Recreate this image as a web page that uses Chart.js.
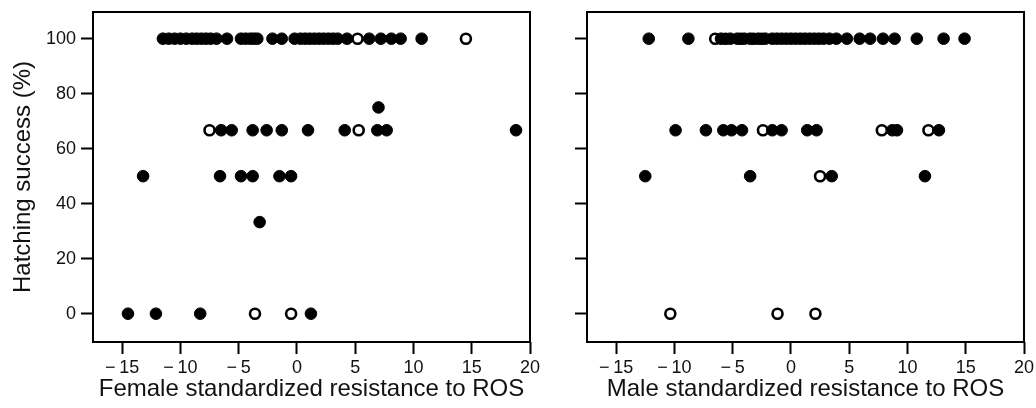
<!DOCTYPE html>
<html>
<head>
<meta charset="utf-8">
<script src="https://cdn.jsdelivr.net/npm/chart.js@4.4.1/dist/chart.umd.min.js"></script>
<style>
  html, body { margin: 0; padding: 0; background: #fff; }
  #wrap { position: relative; width: 1036px; height: 408px; }
  .panel { position: absolute; top: 0; height: 408px; }
  #left-panel { left: 0; width: 545px; }
  #right-panel { left: 545px; width: 491px; }
</style>
</head>
<body>
<div id="wrap">
  <div class="panel" id="left-panel"><canvas id="female-chart"></canvas></div>
  <div class="panel" id="right-panel"><canvas id="male-chart"></canvas></div>
</div>
<script>
/* values */
let xTicks = [-15, -10, -5, 0, 5, 10, 15, 20];
let yTicks = [0, 20, 40, 60, 80, 100];

// female panel, filled circles
let femaleFilledX = [
	-11.5, -11.0, -10.5, -10.0, -9.5, -9.0, -8.6, -8.2, -7.8, -7.4, -6.9, -6.0,
	-4.8, -4.4, -4.0, -3.7, -3.4, -2.1, -1.3, -0.2, 0.3, 0.7, 1.1, 1.5, 1.9, 2.3,
	2.7, 3.1, 3.5, 4.3, 6.2, 7.2, 8.1, 8.9, 10.7,
	7.0,
	-6.5, -5.6, -3.8, -2.6, -1.3, 0.95, 4.1, 6.9, 7.7, 18.8,
	-13.2, -6.6, -4.8, -3.8, -1.5, -0.5,
	-3.2,
	-14.5, -12.1, -8.3, 1.2
];
let femaleFilledY = [
	100, 100, 100, 100, 100, 100, 100, 100, 100, 100, 100, 100,
	100, 100, 100, 100, 100, 100, 100, 100, 100, 100, 100, 100, 100, 100,
	100, 100, 100, 100, 100, 100, 100, 100, 100,
	75,
	66.7, 66.7, 66.7, 66.7, 66.7, 66.7, 66.7, 66.7, 66.7, 66.7,
	50, 50, 50, 50, 50, 50,
	33.3,
	0, 0, 0, 0
];
// female panel, open circles
let femaleOpenX = [5.2, 14.5, -7.5, 5.3, -3.6, -0.5];
let femaleOpenY = [100, 100, 66.7, 66.7, 0, 0];

// male panel, filled circles
let maleFilledX = [
	-12.2, -8.8, -6.0, -5.2, -4.6, -4.0, -3.5, -2.8, -2.2, -1.6, -1.2, -0.8, -0.4,
	0, 0.4, 0.8, 1.2, 1.6, 2.0, 2.4, 2.8, 3.3, 3.9, 4.8, 5.9, 6.8, 7.9, 8.9,
	10.8, 13.1, 14.9,
	-9.9, -7.3, -5.8, -5.1, -4.2, -1.6, -0.8, 1.4, 2.2, 8.7, 9.1, 12.7,
	-12.5, -3.5, 3.5, 11.5
];
let maleFilledY = [
	100, 100, 100, 100, 100, 100, 100, 100, 100, 100, 100, 100, 100,
	100, 100, 100, 100, 100, 100, 100, 100, 100, 100, 100, 100, 100, 100, 100,
	100, 100, 100,
	66.7, 66.7, 66.7, 66.7, 66.7, 66.7, 66.7, 66.7, 66.7, 66.7, 66.7, 66.7,
	50, 50, 50, 50
];
// male panel, open circles
let maleOpenX = [-6.5, -5.6, -4.3, -3.2, -2.5, -2.4, 7.8, 11.8, 2.5, -10.35, -1.15, 2.1];
let maleOpenY = [100, 100, 100, 100, 100, 66.7, 66.7, 66.7, 50, 0, 0, 0];

const FONT = "'Liberation Sans', Arial, Helvetica, sans-serif";

function toPoints(xs, ys) {
	return xs.map(function (x, i) { return { x: x, y: ys[i] }; });
}

function minusLabel(v) {
	return v < 0 ? '\u2212\u2009' + Math.abs(v) : String(v);
}

// box around the plotting area
const framePlugin = {
	id: 'frame',
	beforeDatasetsDraw(chart) {
		let a = chart.chartArea;
		let ctx = chart.ctx;
		ctx.save();
		ctx.strokeStyle = '#000';
		ctx.lineWidth = 2;
		ctx.strokeRect(a.left, a.top, a.right - a.left, a.bottom - a.top);
		ctx.restore();
	}
};

function makeChart(canvasId, filled, open, opts) {
	return new Chart(document.getElementById(canvasId), {
		type: 'scatter',
		data: {
			datasets: [
				{
					data: filled,
					order: 0,
					pointRadius: 5.8,
					pointBorderWidth: 1,
					pointBackgroundColor: '#000',
					pointBorderColor: '#000'
				},
				{
					data: open,
					order: 1,
					pointRadius: 5,
					pointBorderWidth: 2.6,
					pointBackgroundColor: '#fff',
					pointBorderColor: '#000'
				}
			]
		},
		options: {
			responsive: true,
			maintainAspectRatio: false,
			animation: false,
			layout: { padding: { top: 12, right: opts.padRight, left: 0, bottom: 0 } },
			plugins: { legend: { display: false }, tooltip: { enabled: false } },
			scales: {
				x: {
					type: 'linear',
					min: -17.5,
					max: 20,
					afterBuildTicks: function (axis) {
						axis.ticks = xTicks.map(function (v) { return { value: v }; });
					},
					afterFit: function (axis) {
						axis.height = 66;
						axis.paddingLeft = 0;
						axis.paddingRight = 0;
					},
					border: { display: false },
					grid: {
						drawOnChartArea: false,
						drawTicks: true,
						tickLength: 12,
						tickColor: '#000',
						tickWidth: 2
					},
					ticks: {
						color: '#111',
						padding: 3,
						maxRotation: 0,
						font: { family: FONT, size: 18 },
						callback: minusLabel
					},
					title: {
						display: true,
						text: opts.xTitle,
						color: '#111',
						font: { family: FONT, size: 24, lineHeight: 1.2 },
						padding: { top: 0, bottom: 4 }
					}
				},
				y: {
					type: 'linear',
					min: -10.3,
					max: 109.7,
					afterBuildTicks: function (axis) {
						axis.ticks = yTicks.map(function (v) { return { value: v }; });
					},
					afterFit: function (axis) {
						axis.width = opts.yWidth;
						axis.paddingTop = 0;
						axis.paddingBottom = 0;
					},
					border: { display: false },
					grid: {
						drawOnChartArea: false,
						drawTicks: true,
						tickLength: 12,
						tickColor: '#000',
						tickWidth: 2
					},
					ticks: {
						display: opts.showYLabels,
						color: '#111',
						padding: 5,
						font: { family: FONT, size: 18 }
					},
					title: {
						display: opts.yTitle !== '',
						text: opts.yTitle,
						color: '#111',
						font: { family: FONT, size: 24, lineHeight: 1.2 },
						padding: { top: 9, bottom: 0 }
					}
				}
			}
		},
		plugins: [framePlugin]
	});
}

makeChart('female-chart',
	toPoints(femaleFilledX, femaleFilledY),
	toPoints(femaleOpenX, femaleOpenY),
	{
		xTitle: 'Female standardized resistance to ROS',
		yTitle: 'Hatching success (%)',
		yWidth: 93,
		padRight: 15,
		showYLabels: true
	});

makeChart('male-chart',
	toPoints(maleFilledX, maleFilledY),
	toPoints(maleOpenX, maleOpenY),
	{
		xTitle: 'Male standardized resistance to ROS',
		yTitle: '',
		yWidth: 42,
		padRight: 12,
		showYLabels: false
	});
</script>
</body>
</html>
